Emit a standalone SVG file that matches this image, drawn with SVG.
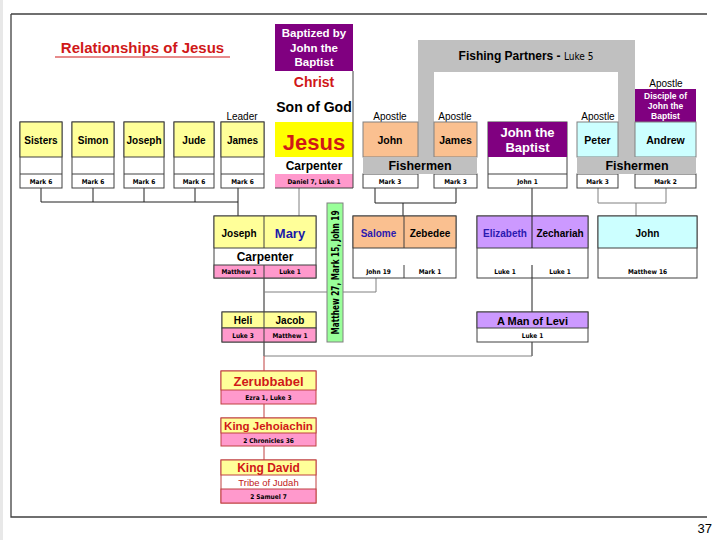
<svg xmlns="http://www.w3.org/2000/svg" width="720" height="540" viewBox="0 0 720 540">
<style>
.t{font-family:"Liberation Sans",Arial,sans-serif;font-weight:bold;text-anchor:middle}
.n{font-family:"Liberation Sans",Arial,sans-serif;text-anchor:middle}
.r{font-family:"DejaVu Sans Condensed","Liberation Sans Narrow",sans-serif;font-size:6.5px;font-weight:bold;text-anchor:middle}
.bx{stroke:#404040;stroke-width:1}
.lb{stroke:#808080;stroke-width:1}
.rd{stroke:#c04040;stroke-width:1}
.c{fill:none;stroke:#202020;stroke-width:1}
.cg{fill:none;stroke:#808080;stroke-width:1}
.cr{fill:none;stroke:#c04040;stroke-width:1}
</style>
<rect width="720" height="540" fill="#ffffff"/>
<rect x="0" y="0" width="3" height="540" fill="#e8e8e8"/>
<path d="M11 14 H707 M11 14 V517 H707" fill="none" stroke="#404040" stroke-width="1.3"/>
<text x="712" y="533" font-family="Liberation Sans,Arial,sans-serif" font-size="13" text-anchor="end">37</text>

<g id="title">
<text class="t" x="142.5" y="53" font-size="15" fill="#d01818">Relationships of Jesus</text>
<line x1="55" y1="57" x2="230" y2="57" stroke="#d01818" stroke-width="1.2"/>
</g>

<g id="fishing-partners">
<path d="M418 40 H635 V157 H618 V72 H434 V157 H418 Z" fill="#c0c0c0"/>
<text x="526" y="60" font-family="Liberation Sans,Arial,sans-serif" font-size="12" font-weight="bold" text-anchor="middle">Fishing Partners - <tspan font-family="DejaVu Sans Condensed,Liberation Sans Narrow,sans-serif" font-size="10" font-weight="normal">Luke 5</tspan></text>
</g>

<g id="connectors">
<path class="c" d="M41 188V202 M93 188V202 M144 188V202 M195 188V202 M238 188V216 M41 202H238"/>
<path class="cg" d="M299 188V216"/>
<path class="c" d="M375 188V203 M456 188V203 M375 203H456 M403 203V216"/>
<path class="c" d="M532 188V248 M532 265V312"/>
<path class="cg" d="M598 188V203 M666 188V203 M598 203H666 M636 203V216"/>
<path class="c" d="M264 278V312"/>
<path class="cg" d="M264 292H376V278"/>
<path class="c" d="M264 342V356 M532 342V356"/>
<path class="cg" d="M264 356H532"/>
<path class="cr" d="M264 356V371 M264 404V418 M264 446V460"/>
</g>

<g id="sisters">
<rect class="bx" x="20" y="122" width="42" height="66" fill="#fff"/>
<rect class="bx" x="20" y="122" width="42" height="35" fill="#ffff99"/>
<line class="bx" x1="20" y1="174" x2="62" y2="174"/>
<text class="t" x="41" y="144" font-size="10">Sisters</text>
<text class="r" x="41" y="184">Mark 6</text>
</g>
<g id="simon">
<rect class="bx" x="72" y="122" width="42" height="66" fill="#fff"/>
<rect class="bx" x="72" y="122" width="42" height="35" fill="#ffff99"/>
<line class="bx" x1="72" y1="174" x2="114" y2="174"/>
<text class="t" x="93" y="144" font-size="10">Simon</text>
<text class="r" x="93" y="184">Mark 6</text>
</g>
<g id="joseph-brother">
<rect class="bx" x="124" y="122" width="40" height="66" fill="#fff"/>
<rect class="bx" x="124" y="122" width="40" height="35" fill="#ffff99"/>
<line class="bx" x1="124" y1="174" x2="164" y2="174"/>
<text class="t" x="144" y="144" font-size="10">Joseph</text>
<text class="r" x="144" y="184">Mark 6</text>
</g>
<g id="jude">
<rect class="bx" x="174" y="122" width="40" height="66" fill="#fff"/>
<rect class="bx" x="174" y="122" width="40" height="35" fill="#ffff99"/>
<line class="bx" x1="174" y1="174" x2="214" y2="174"/>
<text class="t" x="194" y="144" font-size="10">Jude</text>
<text class="r" x="194" y="184">Mark 6</text>
</g>
<g id="james-brother">
<text class="n" x="242" y="120" font-size="10">Leader</text>
<rect class="bx" x="221" y="122" width="43" height="66" fill="#fff"/>
<rect class="bx" x="221" y="122" width="43" height="35" fill="#ffff99"/>
<line class="bx" x1="221" y1="174" x2="264" y2="174"/>
<text class="t" x="242.5" y="144" font-size="10">James</text>
<text class="r" x="242.5" y="184">Mark 6</text>
</g>

<g id="jesus">
<rect x="275" y="24" width="78" height="47" fill="#800080"/>
<text class="t" x="314" y="37" font-size="11.5" fill="#fff">Baptized by</text>
<text class="t" x="314" y="51.5" font-size="11.5" fill="#fff">John the</text>
<text class="t" x="314" y="66" font-size="11.5" fill="#fff">Baptist</text>
<line class="bx" x1="353" y1="71" x2="353" y2="122"/>
<text class="t" x="314" y="87" font-size="14" fill="#d01818">Christ</text>
<text class="t" x="314" y="112" font-size="14">Son of God</text>
<rect x="275" y="122" width="78" height="35" fill="#ffff00"/>
<rect x="275" y="157" width="78" height="17" fill="#fff"/>
<rect x="275" y="174" width="78" height="14" fill="#ff99cc"/>
<line class="bx" x1="353" y1="122" x2="353" y2="188"/>
<line class="bx" x1="275" y1="188" x2="353" y2="188"/>
<text class="t" x="314" y="150" font-size="22" fill="#d01818">Jesus</text>
<text class="t" x="314" y="170" font-size="12">Carpenter</text>
<text class="r" x="314" y="184">Daniel 7, Luke 1</text>
</g>

<g id="john-apostle">
<text class="n" x="390" y="120" font-size="10">Apostle</text>
<rect class="lb" x="363" y="122" width="55" height="35" fill="#fac090"/>
<rect class="bx" x="363" y="174" width="55" height="14" fill="#fff"/>
<text class="t" x="390" y="144" font-size="10.5">John</text>
<text class="r" x="390" y="184">Mark 3</text>
</g>
<g id="james-apostle">
<text class="n" x="455" y="120" font-size="10">Apostle</text>
<rect class="lb" x="434" y="122" width="43" height="35" fill="#fac090"/>
<rect class="bx" x="434" y="174" width="43" height="14" fill="#fff"/>
<text class="t" x="455.5" y="144" font-size="10.5">James</text>
<text class="r" x="455.5" y="184">Mark 3</text>
</g>
<g id="fishermen-1">
<rect x="363" y="157" width="114" height="17" fill="#c0c0c0"/>
<text class="t" x="420" y="170" font-size="12.5">Fishermen</text>
</g>

<g id="john-the-baptist">
<rect class="bx" x="488" y="122" width="79" height="66" fill="#fff"/>
<rect x="488" y="122" width="79" height="35" fill="#800080"/>
<line class="bx" x1="488" y1="174" x2="567" y2="174"/>
<text class="t" x="527.5" y="137" font-size="13" fill="#fff">John the</text>
<text class="t" x="527.5" y="152" font-size="13" fill="#fff">Baptist</text>
<text class="r" x="527.5" y="184">John 1</text>
</g>

<g id="peter">
<text class="n" x="598" y="120" font-size="10">Apostle</text>
<rect class="lb" x="577" y="122" width="41" height="35" fill="#ccffff"/>
<rect class="bx" x="577" y="174" width="41" height="14" fill="#fff"/>
<text class="t" x="597.5" y="144" font-size="10.5">Peter</text>
<text class="r" x="597.5" y="184">Mark 3</text>
</g>
<g id="andrew">
<text class="n" x="666" y="87" font-size="10">Apostle</text>
<rect x="635" y="89" width="61" height="33" fill="#800080"/>
<text class="t" x="665.5" y="99" font-size="8.5" fill="#fff">Disciple of</text>
<text class="t" x="665.5" y="109" font-size="8.5" fill="#fff">John the</text>
<text class="t" x="665.5" y="119" font-size="8.5" fill="#fff">Baptist</text>
<rect class="lb" x="635" y="122" width="61" height="35" fill="#ccffff"/>
<rect class="bx" x="635" y="174" width="61" height="14" fill="#fff"/>
<text class="t" x="665.5" y="144" font-size="10.5">Andrew</text>
<text class="r" x="665.5" y="184">Mark 2</text>
</g>
<g id="fishermen-2">
<rect x="577" y="157" width="119" height="17" fill="#c0c0c0"/>
<text class="t" x="637" y="170" font-size="12.5">Fishermen</text>
</g>

<g id="joseph-mary">
<rect class="bx" x="214" y="216" width="102" height="62" fill="#fff"/>
<rect class="bx" x="214" y="216" width="102" height="32" fill="#ffff99"/>
<rect class="bx" x="214" y="265" width="102" height="13" fill="#ff99cc"/>
<line class="bx" x1="264" y1="216" x2="264" y2="248"/>
<line class="bx" x1="264" y1="265" x2="264" y2="278"/>
<text class="t" x="239" y="237" font-size="10">Joseph</text>
<text class="t" x="290" y="238" font-size="13" fill="#1a1aa8">Mary</text>
<text class="t" x="265" y="261" font-size="12">Carpenter</text>
<text class="r" x="239" y="274">Matthew 1</text>
<text class="r" x="290" y="274">Luke 1</text>
</g>

<g id="crucifixion-ref">
<rect class="lb" x="327" y="203" width="16" height="139" fill="#99ff99"/>
<text x="0" y="0" transform="translate(339 272.5) rotate(-90)" font-family="DejaVu Sans Condensed,Liberation Sans Narrow,sans-serif" font-size="11" font-weight="bold" text-anchor="middle" textLength="124" lengthAdjust="spacingAndGlyphs">Matthew 27, Mark 15, John 19</text>
</g>

<g id="salome-zebedee">
<rect class="bx" x="353" y="216" width="103" height="62" fill="#fff"/>
<rect class="bx" x="353" y="216" width="103" height="32" fill="#fac090"/>
<line class="bx" x1="404" y1="216" x2="404" y2="248"/>
<line class="bx" x1="404" y1="265" x2="404" y2="278"/>
<text class="t" x="378.5" y="237" font-size="10" fill="#2a1ab0">Salome</text>
<text class="t" x="430" y="237" font-size="10">Zebedee</text>
<text class="r" x="378.5" y="274">John 19</text>
<text class="r" x="430" y="274">Mark 1</text>
</g>

<g id="elizabeth-zechariah">
<rect class="bx" x="477" y="216" width="111" height="62" fill="#fff"/>
<rect class="bx" x="477" y="216" width="111" height="32" fill="#cc99ff"/>
<line class="c" x1="532" y1="216" x2="532" y2="248"/>
<line class="c" x1="532" y1="265" x2="532" y2="278"/>
<text class="t" x="505" y="237" font-size="10" fill="#2a1ab0">Elizabeth</text>
<text class="t" x="560" y="237" font-size="10">Zechariah</text>
<text class="r" x="505" y="274">Luke 1</text>
<text class="r" x="560" y="274">Luke 1</text>
</g>

<g id="john-son-of-zebedee">
<rect class="bx" x="598" y="216" width="99" height="62" fill="#fff"/>
<rect class="bx" x="598" y="216" width="99" height="32" fill="#ccffff"/>
<text class="t" x="647.5" y="237" font-size="10">John</text>
<text class="r" x="647.5" y="274">Matthew 16</text>
</g>

<g id="heli-jacob">
<rect class="bx" x="222" y="312" width="94" height="30" fill="#fff"/>
<rect class="bx" x="222" y="312" width="94" height="16" fill="#ffff99"/>
<rect class="bx" x="222" y="328" width="94" height="14" fill="#ff99cc"/>
<line class="bx" x1="264" y1="312" x2="264" y2="342"/>
<text class="t" x="243" y="324" font-size="10">Heli</text>
<text class="t" x="290" y="324" font-size="10">Jacob</text>
<text class="r" x="243" y="338">Luke 3</text>
<text class="r" x="290" y="338">Matthew 1</text>
</g>

<g id="man-of-levi">
<rect class="bx" x="477" y="312" width="111" height="30" fill="#fff"/>
<rect class="bx" x="477" y="312" width="111" height="16" fill="#cc99ff"/>
<text class="t" x="532.5" y="324.5" font-size="11">A Man of Levi</text>
<text class="r" x="532.5" y="338">Luke 1</text>
</g>

<g id="zerubbabel">
<rect class="rd" x="221" y="371" width="95" height="33" fill="#ff99cc"/>
<rect class="rd" x="221" y="371" width="95" height="19" fill="#ffff99"/>
<text class="t" x="268.5" y="386" font-size="13" fill="#d01818">Zerubbabel</text>
<text class="r" x="268.5" y="400">Ezra 1, Luke 3</text>
</g>
<g id="jehoiachin">
<rect class="rd" x="221" y="418" width="95" height="28" fill="#ff99cc"/>
<rect class="rd" x="221" y="418" width="95" height="15" fill="#ffff99"/>
<text class="t" x="268.5" y="430" font-size="11.5" fill="#d01818">King Jehoiachin</text>
<text class="r" x="268.5" y="443">2 Chronicles 36</text>
</g>
<g id="david">
<rect class="rd" x="221" y="460" width="95" height="43" fill="#fff"/>
<rect class="rd" x="221" y="460" width="95" height="15" fill="#ffff99"/>
<rect class="rd" x="221" y="489" width="95" height="14" fill="#ff99cc"/>
<text class="t" x="268.5" y="472" font-size="12" fill="#d01818">King David</text>
<text class="n" x="268.5" y="486" font-size="9.5" fill="#c02020">Tribe of Judah</text>
<text class="r" x="268.5" y="499">2 Samuel 7</text>
</g>
</svg>
